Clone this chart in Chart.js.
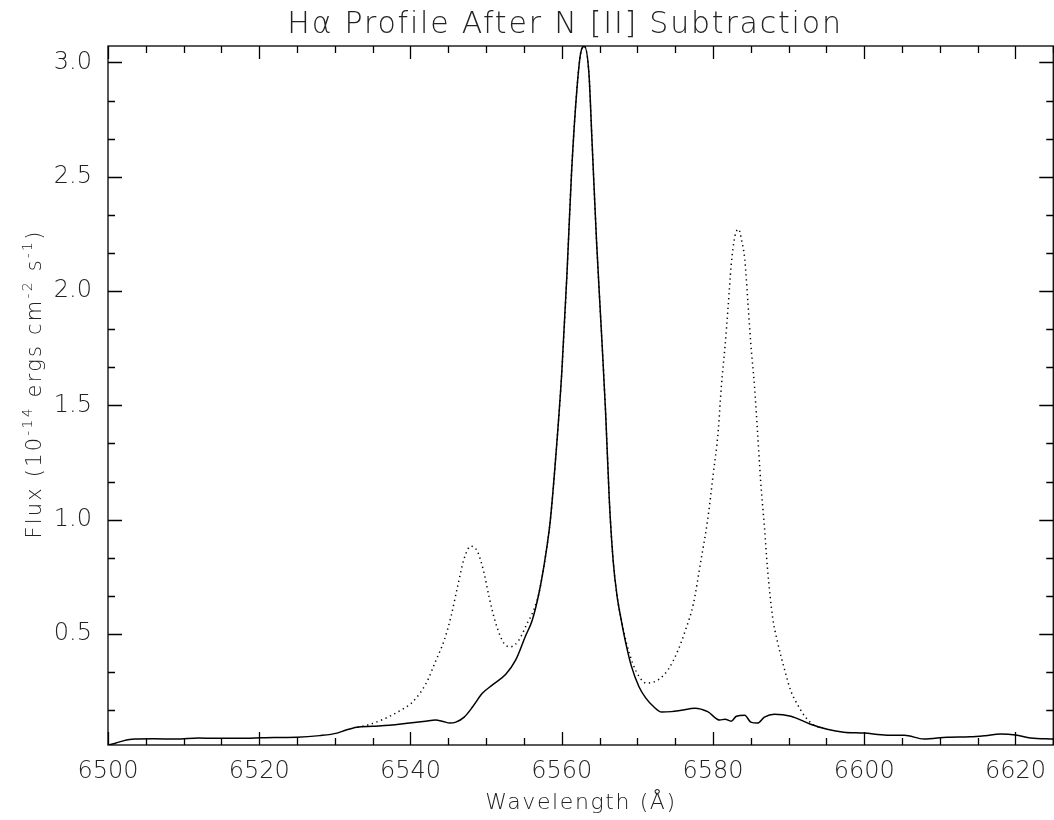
<!DOCTYPE html>
<html>
<head>
<meta charset="utf-8">
<script src="https://cdn.jsdelivr.net/npm/chart.js@4.4.1/dist/chart.umd.min.js"></script>
<style>
  html, body { margin: 0; padding: 0; background: #fff; overflow: hidden; }
  #wrap { width: 1054px; height: 820px; overflow: hidden; }
</style>
</head>
<body>
<div id="wrap"><canvas id="profile" width="1058" height="820"></canvas></div>
<script>
// H-alpha after N[II] subtraction (solid)
const solidWave = [6500, 6501, 6502, 6503.5, 6506, 6509, 6512, 6515, 6518.8, 6522, 6525, 6528, 6530.3, 6531.5, 6532.9, 6535, 6537.2, 6539.9, 6542, 6543.3, 6544.3, 6545.2, 6546, 6547.1, 6548.2, 6549.5, 6550.8, 6552.6, 6553.9, 6555.2, 6556.1, 6557, 6557.9, 6558.5, 6559.2, 6560, 6560.7, 6561.3, 6562, 6562.5, 6563, 6563.6, 6564, 6564.6, 6565.3, 6565.8, 6566.3, 6566.8, 6567.3, 6567.9, 6568.5, 6569.2, 6570.2, 6571.1, 6572.2, 6573.2, 6574.5, 6575.8, 6577.6, 6579.3, 6580.9, 6581.6, 6582.4, 6583.1, 6584.2, 6585, 6585.9, 6586.8, 6588.1, 6590.3, 6592.9, 6595.1, 6597.3, 6600, 6603, 6605.3, 6607.9, 6611, 6614, 6616, 6618, 6620, 6622, 6625];
const solidFlux = [0.014, 0.022, 0.032, 0.040, 0.041, 0.040, 0.045, 0.043, 0.044, 0.047, 0.048, 0.055, 0.066, 0.080, 0.092, 0.096, 0.100, 0.110, 0.118, 0.123, 0.117, 0.110, 0.114, 0.136, 0.180, 0.240, 0.276, 0.324, 0.385, 0.490, 0.560, 0.680, 0.850, 1.000, 1.270, 1.640, 2.080, 2.520, 2.880, 3.040, 3.070, 2.950, 2.660, 2.220, 1.790, 1.470, 1.080, 0.820, 0.670, 0.555, 0.455, 0.360, 0.270, 0.220, 0.180, 0.158, 0.160, 0.166, 0.175, 0.160, 0.123, 0.127, 0.118, 0.140, 0.144, 0.114, 0.110, 0.136, 0.149, 0.140, 0.105, 0.083, 0.070, 0.066, 0.057, 0.057, 0.040, 0.048, 0.050, 0.055, 0.062, 0.058, 0.045, 0.040];

// original profile before subtraction (dotted)
const dottedWave = [6533, 6534.2, 6536.3, 6538.55, 6540.3, 6542.07, 6543.38, 6544.47, 6545.35, 6546.22, 6547.1, 6547.99, 6548.86, 6549.74, 6550.39, 6551.28, 6552.37, 6553.25, 6554.34, 6555.43, 6556.3, 6557, 6557.9, 6558.5, 6559.2, 6560, 6560.7, 6561.3, 6562, 6562.5, 6563, 6563.6, 6564, 6564.6, 6565.3, 6565.8, 6566.3, 6566.8, 6567.3, 6567.9, 6568.6, 6569.4, 6570.3, 6571.2, 6572, 6572.8, 6574.1, 6575.4, 6576.4, 6577.4, 6578.4, 6579.3, 6580, 6580.7, 6581.1, 6581.6, 6582, 6582.4, 6582.9, 6583.4, 6583.8, 6584.2, 6584.6, 6585, 6585.5, 6585.9, 6586.3, 6586.8, 6587.2, 6587.9, 6588.5, 6589.5, 6590.3, 6591.2, 6592.2, 6593.4, 6594.5];
const dottedFlux = [0.092, 0.100, 0.125, 0.163, 0.203, 0.284, 0.385, 0.473, 0.575, 0.706, 0.830, 0.884, 0.860, 0.765, 0.662, 0.546, 0.458, 0.444, 0.473, 0.546, 0.604, 0.680, 0.850, 1.000, 1.270, 1.640, 2.080, 2.520, 2.880, 3.040, 3.070, 2.950, 2.660, 2.220, 1.790, 1.470, 1.080, 0.820, 0.670, 0.560, 0.455, 0.370, 0.310, 0.285, 0.288, 0.300, 0.345, 0.430, 0.520, 0.630, 0.820, 1.000, 1.190, 1.390, 1.580, 1.760, 1.930, 2.110, 2.240, 2.270, 2.220, 2.140, 1.960, 1.770, 1.580, 1.380, 1.170, 0.970, 0.790, 0.570, 0.470, 0.340, 0.250, 0.190, 0.137, 0.100, 0.088];

const xTicks = [6500, 6520, 6540, 6560, 6580, 6600, 6620];
const yTicks = [0.5, 1.0, 1.5, 2.0, 2.5, 3.0];
const xRange = [6500, 6625];
const yRange = [0.014, 3.072];
const xMinorStep = 5;
const yMinorStep = 0.5 / 3;

const titleText = "H\u03b1 Profile After N [II] Subtraction";
const xLabel = "Wavelength (\u00c5)";
// y label pieces: [text, superscript?]
const yLabel = [["Flux (10", false], ["-14", true], [" ergs cm", false], ["-2", true], [" s", false], ["-1", true], [")", false]];

const FONT = "'DejaVu Sans', 'Liberation Sans', sans-serif";
const INK = "#222";

function toPoints(xs, ys) {
    return xs.map((x, i) => ({ x: x, y: ys[i] }));
}

// IDL style frame: box with inward ticks on all four sides, plus titles
const framePlugin = {
    id: "frame",
    afterDatasetsDraw(chart) {
        const ctx = chart.ctx;
        const a = chart.chartArea;
        const xs = chart.scales.x, ys = chart.scales.y;
        ctx.save();
        ctx.strokeStyle = "#000";
        ctx.lineWidth = 1.3;
        ctx.strokeRect(a.left, a.top, a.right - a.left, a.bottom - a.top);
        ctx.beginPath();
        for (let v = xRange[0]; v <= xRange[1] + 1e-6; v += xMinorStep) {
            const px = Math.round(xs.getPixelForValue(v)) + 0.5;
            const len = xTicks.includes(v) ? 13 : 7;
            ctx.moveTo(px, a.bottom); ctx.lineTo(px, a.bottom - len);
            ctx.moveTo(px, a.top); ctx.lineTo(px, a.top + len);
        }
        for (let k = 1; k * yMinorStep <= yRange[1]; k++) {
            const v = k * yMinorStep;
            const py = Math.round(ys.getPixelForValue(v)) + 0.5;
            const len = (k % 3 === 0) ? 14 : 7;
            ctx.moveTo(a.left, py); ctx.lineTo(a.left + len, py);
            ctx.moveTo(a.right, py); ctx.lineTo(a.right - len, py);
        }
        ctx.stroke();

        ctx.fillStyle = INK;
        ctx.textBaseline = "alphabetic";

        // plot title
        ctx.font = "200 30px " + FONT;
        ctx.letterSpacing = "1.8px";
        ctx.textAlign = "center";
        ctx.fillText(titleText, 565, 33);

        // x axis title
        ctx.font = "200 22px " + FONT;
        ctx.letterSpacing = "1.6px";
        ctx.fillText(xLabel, 581, 809);

        // y axis title with superscripts
        ctx.letterSpacing = "2.2px";
        ctx.textAlign = "left";
        const base = "200 21px " + FONT, sup = "200 14px " + FONT;
        let total = 0;
        yLabel.forEach(([t, s]) => { ctx.font = s ? sup : base; total += ctx.measureText(t).width; });
        ctx.translate(41, 384);
        ctx.rotate(-Math.PI / 2);
        let cx = -total / 2;
        yLabel.forEach(([t, s]) => {
            ctx.font = s ? sup : base;
            ctx.fillText(t, cx, s ? -9 : 0);
            cx += ctx.measureText(t).width;
        });
        ctx.restore();
    }
};

new Chart(document.getElementById("profile"), {
    type: "line",
    data: {
        datasets: [
            {
                label: "After subtraction",
                data: toPoints(solidWave, solidFlux),
                borderColor: "#000",
                borderWidth: 1.5,
                pointRadius: 0,
                cubicInterpolationMode: "monotone",
                fill: false
            },
            {
                label: "Original",
                data: toPoints(dottedWave, dottedFlux),
                borderColor: "#000",
                borderWidth: 1.5,
                borderDash: [1.3, 3.6],
                pointRadius: 0,
                cubicInterpolationMode: "monotone",
                fill: false
            }
        ]
    },
    options: {
        responsive: false,
        animation: false,
        layout: { padding: { top: 46, right: 0, left: 0, bottom: 0 } },
        plugins: {
            legend: { display: false },
            tooltip: { enabled: false },
            title: { display: false }
        },
        scales: {
            x: {
                type: "linear",
                min: xRange[0],
                max: xRange[1],
                afterBuildTicks: s => { s.ticks = xTicks.map(v => ({ value: v })); },
                afterFit: s => { s.height = 75; },
                grid: { display: false, drawTicks: false },
                border: { display: false },
                ticks: {
                    autoSkip: false,
                    maxRotation: 0,
                    padding: 12,
                    color: INK,
                    font: { family: FONT, size: 24, weight: 200 },
                    callback: v => String(v)
                }
            },
            y: {
                type: "linear",
                min: yRange[0],
                max: yRange[1],
                afterBuildTicks: s => { s.ticks = yTicks.map(v => ({ value: v })); },
                afterFit: s => { s.width = 108; },
                grid: { display: false, drawTicks: false },
                border: { display: false },
                ticks: {
                    padding: 16,
                    color: INK,
                    font: { family: FONT, size: 24, weight: 200 },
                    callback: v => v.toFixed(1)
                }
            }
        }
    },
    plugins: [framePlugin]
});
</script>
</body>
</html>
